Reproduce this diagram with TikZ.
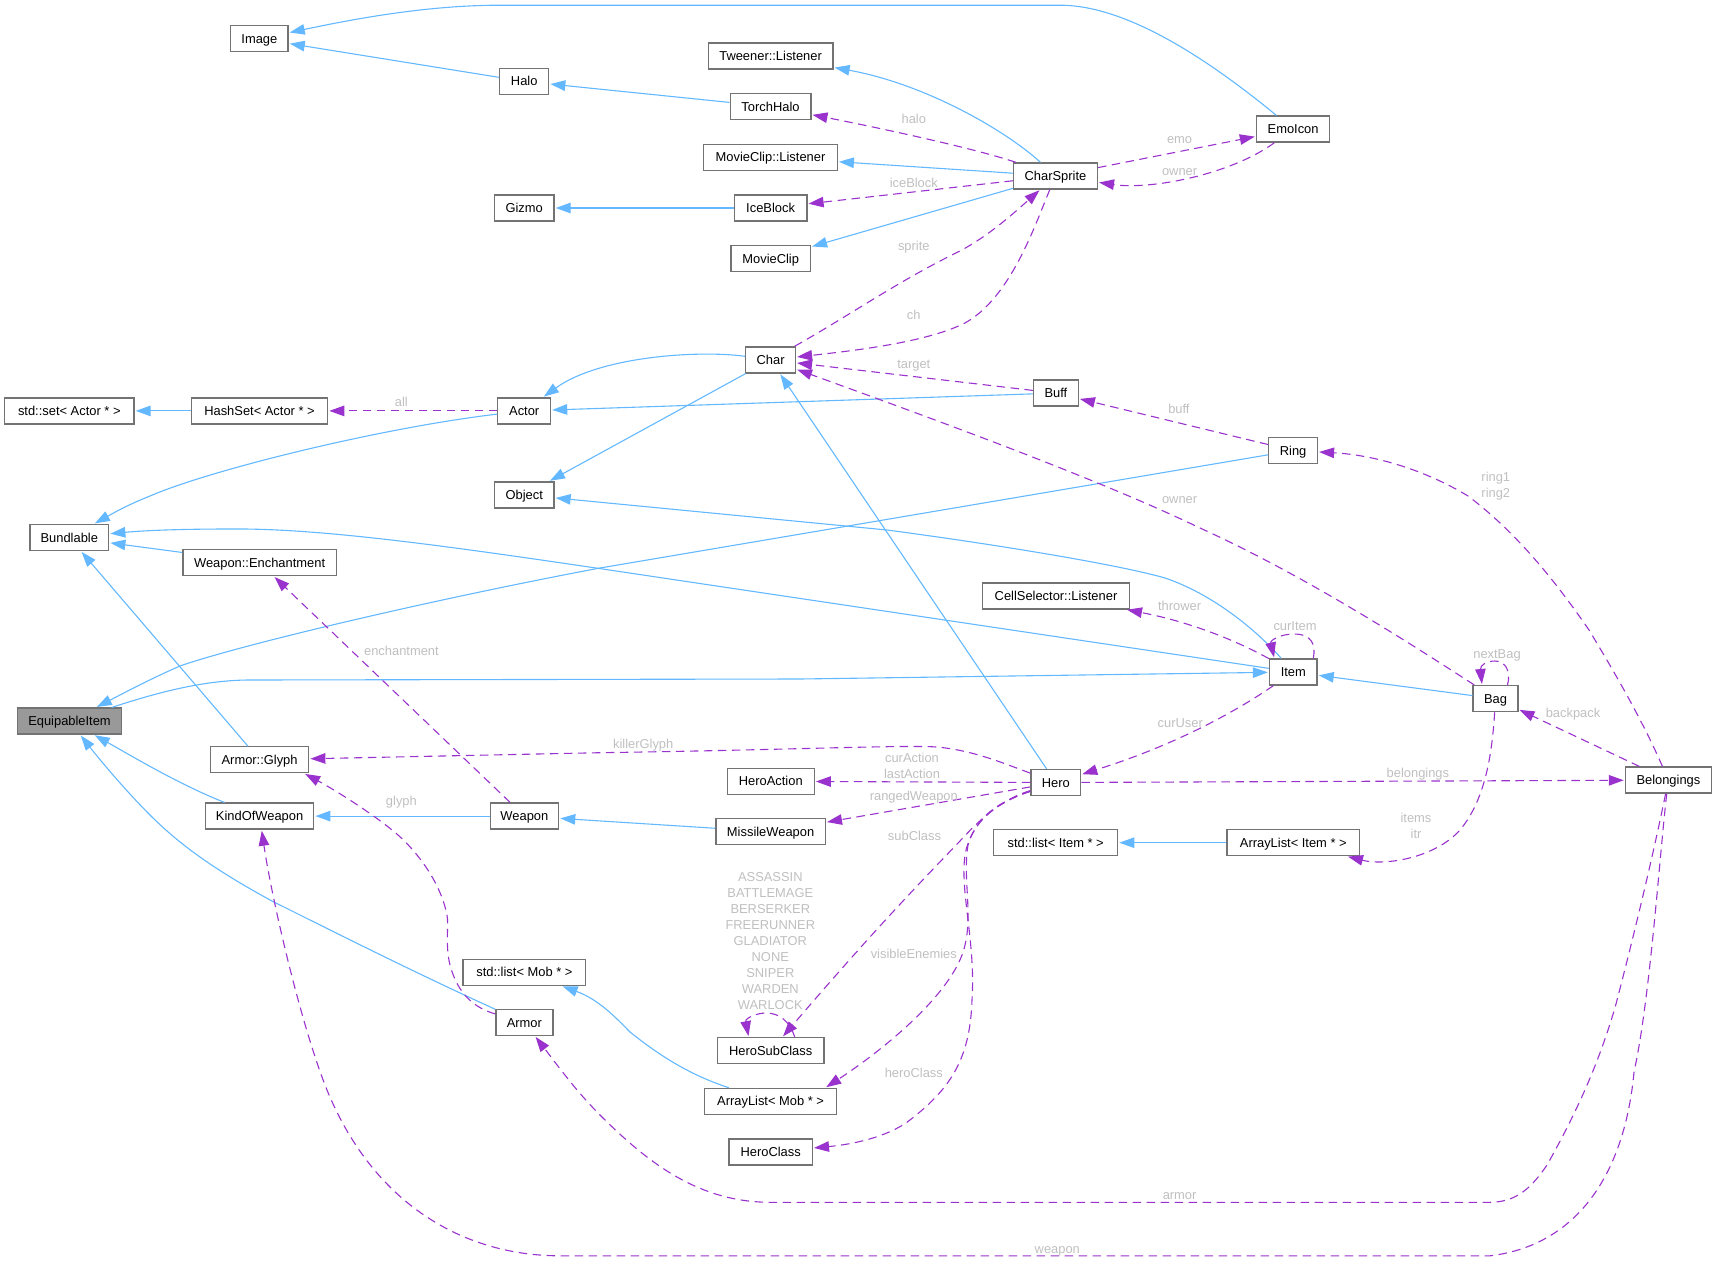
\documentclass[tikz,border=0pt]{standalone}
\usepackage{fontspec}
\setmainfont{Liberation Sans}
\usetikzlibrary{arrows.meta}

\begin{document}
\begin{tikzpicture}[x=1pt,y=-1pt,
    cls/.style={shape=rectangle, draw=black!55, line width=1.3pt, fill=white, inner sep=0pt,
      minimum height=26pt, text height=9pt, text depth=0pt, font=\fontsize{12.9}{16}\selectfont},
    lab/.style={text=black!25, inner sep=0pt, text height=9pt, text depth=0pt, font=\fontsize{12.9}{16}\selectfont},
    labs/.style={text=black!25, inner sep=0pt, align=center, font=\fontsize{12.9}{16}\selectfont},
    inh/.style={draw={rgb,255:red,99;green,184;blue,255}, line width=1.1pt, shorten >=1pt,
      -{Triangle[length=15pt,width=10.5pt]}},
    rel/.style={draw={rgb,255:red,154;green,50;blue,205}, line width=1.1pt, shorten >=1pt,
      dash pattern=on 8.5pt off 5.5pt, -{Triangle[length=15pt,width=10.5pt]}}]
    \useasboundingbox (0,0) rectangle (1716,1261);

    \node[cls,minimum width=57.4pt] (image) at (259.4,38.8) {Image};
    \node[cls,minimum width=49pt] (halo) at (524.2,81.4) {Halo};
    \node[cls,minimum width=59.6pt] (gizmo) at (524.2,208) {Gizmo};
    \node[cls,minimum width=129.4pt] (stdset) at (69.3,410.9) {std::set< Actor * >};
    \node[cls,minimum width=136.3pt] (hashset) at (259.5,410.9) {HashSet< Actor * >};
    \node[cls,minimum width=52.8pt] (actor) at (524.2,410.9) {Actor};
    \node[cls,minimum width=78.9pt] (bundlable) at (69.3,537.5) {Bundlable};
    \node[cls,minimum width=153.5pt] (enchant) at (259.6,562.7) {Weapon::Enchantment};
    \node[cls,minimum width=59.6pt] (object) at (524.2,494.9) {Object};
    \node[cls,minimum width=124.7pt] (tweener) at (770.6,56) {Tweener::Listener};
    \node[cls,minimum width=80.7pt] (torchhalo) at (770.5,106.6) {TorchHalo};
    \node[cls,minimum width=133.5pt] (cliplistener) at (770.5,157.3) {MovieClip::Listener};
    \node[cls,minimum width=72.7pt] (iceblock) at (770.6,208) {IceBlock};
    \node[cls,minimum width=79.6pt] (movieclip) at (770.7,258.5) {MovieClip};
    \node[cls,minimum width=83.8pt] (charsprite) at (1055.5,176) {CharSprite};
    \node[cls,minimum width=49.7pt] (char) at (770.6,359.9) {Char};
    \node[cls,minimum width=44.8pt] (buff) at (1055.9,393.1) {Buff};
    \node[cls,minimum width=146.5pt] (cellsel) at (1056,595.9) {CellSelector::Listener};
    \node[cls,minimum width=73.3pt] (emoicon) at (1293.1,129.1) {EmoIcon};
    \node[cls,minimum width=48.7pt] (ring) at (1293.1,450.6) {Ring};
    \node[cls,minimum width=47.6pt] (item) at (1293.3,672) {Item};
    \node[cls,minimum width=44.8pt] (bag) at (1495.5,698.6) {Bag};
    \node[cls,minimum width=86pt] (belongings) at (1668.4,780.1) {Belongings};
    \node[cls,minimum width=132.8pt] (listitem) at (1293.3,842.7) {ArrayList< Item * >};
    \node[cls,minimum width=86.9pt] (heroaction) at (770.8,781.3) {HeroAction};
    \node[cls,minimum width=49.7pt] (hero) at (1055.8,782.5) {Hero};
    \node[cls,minimum width=109.5pt] (missile) at (770.6,831.8) {MissileWeapon};
    \node[cls,minimum width=123.9pt] (stditem) at (1055.7,842.7) {std::list< Item * >};
    \node[cls,minimum width=106.4pt] (herosub) at (770.7,1050.7) {HeroSubClass};
    \node[cls,minimum width=131.7pt] (listmob) at (770.6,1101.4) {ArrayList< Mob * >};
    \node[cls,minimum width=83.4pt] (heroclass) at (770.7,1152.1) {HeroClass};
    \node[cls,minimum width=104.5pt,fill=black!40] (equip) at (69.5,721.1) {EquipableItem};
    \node[cls,minimum width=98.3pt] (glyph) at (259.6,759.8) {Armor::Glyph};
    \node[cls,minimum width=108.3pt] (kind) at (259.6,816.1) {KindOfWeapon};
    \node[cls,minimum width=68.5pt] (weapon) at (524.4,816.1) {Weapon};
    \node[cls,minimum width=122.8pt] (stdmob) at (524.4,972.3) {std::list< Mob * >};
    \node[cls,minimum width=57pt] (armor) at (524.4,1022.5) {Armor};

    % inheritance
    \draw[inh] (emoicon) .. controls (1215,65) and (1130,5.2) .. (1060,5.2) -- (500,5.2) .. controls (420,5.2) and (340,22) .. (image);
    \draw[inh] (halo) -- (image);
    \draw[inh] (torchhalo) -- (halo);
    \draw[inh] (charsprite) .. controls (1005,130) and (925,84) .. (tweener);
    \draw[inh] (charsprite) -- (cliplistener);
    \draw[inh] (iceblock) -- (gizmo);
    \draw[inh] (charsprite) -- (movieclip);
    \draw[inh] (char) .. controls (700,350) and (600,356) .. (actor);
    \draw[inh] (buff) -- (actor);
    \draw[inh] (char) -- (object);
    \draw[inh] (hashset) -- (stdset);
    \draw[inh] (actor) .. controls (380,428) and (210,470) .. (150,496) .. controls (125,506) and (110,515) .. (bundlable);
    \draw[inh] (ring) -- (600,568) .. controls (430,600) and (240,645) .. (180,666) .. controls (150,679) and (120,695) .. (equip);
    \draw[inh] (item) -- (600,568.6) .. controls (450,546.5) and (320,528) .. (230,529) .. controls (190,529) and (150,530) .. (bundlable);
    \draw[inh] (item) .. controls (1258,632) and (1215,595) .. (1165,578) .. controls (1120,565) and (1000,545) .. (887,530) -- (object);
    \draw[inh] (equip) .. controls (150,695) and (200,680) .. (250,680) -- (800,679) -- (item);
    \draw[inh] (bag) -- (item);
    \draw[inh] (enchant) -- (bundlable);
    \draw[inh] (glyph) -- (bundlable);
    \draw[inh] (kind) .. controls (180,785) and (130,755) .. (equip);
    \draw[inh] (armor) .. controls (420,975) and (340,935) .. (272,901) .. controls (215,870) and (180,845) .. (150,815) .. controls (125,790) and (100,760) .. (equip);
    \draw[inh] (weapon) -- (kind);
    \draw[inh] (missile) -- (weapon);
    \draw[inh] (listmob) .. controls (690,1075) and (660,1056) .. (630,1032) .. controls (618,1020) and (600,1000) .. (stdmob);
    \draw[inh] (listitem) -- (stditem);
    \draw[inh] (hero) -- (char);

    % members
    \draw[rel] (charsprite) .. controls (980,150) and (890,130) .. (torchhalo);
    \draw[rel] (charsprite) -- (iceblock);
    \draw[rel] (char) .. controls (850,315) and (900,280) .. (960,251) .. controls (990,235) and (1015,212) .. (charsprite);
    \draw[rel] (charsprite) .. controls (1035,225) and (1010,300) .. (963,324) .. controls (925,342) and (860,350) .. (char);
    \draw[rel] (buff) -- (char);
    \draw[rel] (bag) .. controls (1420,650) and (1310,578) .. (1200,528) .. controls (1100,480) and (950,425) .. (char);
    \draw[rel] (ring) -- (buff);
    \draw[rel] (belongings) .. controls (1640,715) and (1610,665) .. (1589,630) .. controls (1560,588) and (1520,535) .. (1468,496) .. controls (1425,470) and (1375,455) .. (ring);
    \draw[rel] (charsprite) -- (emoicon);
    \draw[rel] (emoicon) .. controls (1230,175) and (1150,190) .. (charsprite);
    \draw[rel] (actor) -- (hashset);
    \draw[rel] (item) .. controls (1235,640) and (1190,622) .. (cellsel);
    \draw[rel] ([xshift=20pt]item.north) .. controls (1316,645) and (1312,634) .. (1294,634) .. controls (1281,634) and (1270,640) .. ([xshift=-19pt]item.north);
    \draw[rel] (item) .. controls (1235,712) and (1175,745) .. (hero);
    \draw[rel] ([xshift=12pt]bag.north) .. controls (1511,672) and (1506,661) .. (1495,661) .. controls (1487,661) and (1480,665) .. ([xshift=-13.5pt]bag.north);
    \draw[rel] (belongings) -- (bag);
    \draw[rel] (hero) -- (belongings);
    \draw[rel] (bag) .. controls (1492,755) and (1485,800) .. (1460,830) .. controls (1435,858) and (1385,866) .. (listitem);
    \draw[rel] (hero) .. controls (1000,762) and (965,747) .. (925,746.5) .. controls (870,746) and (780,750) .. (600,752.7) -- (glyph);
    \draw[rel] (hero) -- (heroaction);
    \draw[rel] (hero) -- (missile);
    \draw[rel] (hero) .. controls (1010,797) and (990,808) .. (960,841) .. controls (910,893) and (870,935) .. (herosub);
    \draw[rel] ([xshift=24pt]herosub.north) .. controls (790,1022) and (780,1013) .. (766,1013) .. controls (757,1013) and (745,1018) .. ([xshift=-22pt]herosub.north);
    \draw[rel] (hero) .. controls (1005,800) and (978,812) .. (968,845) .. controls (962,880) and (975,920) .. (962,955) .. controls (945,1000) and (880,1052) .. (listmob.14);
    \draw[rel] (hero) .. controls (1005,800) and (975,815) .. (966,850) .. controls (958,885) and (976,940) .. (972,1000) .. controls (970,1060) and (950,1090) .. (906,1123) .. controls (880,1140) and (845,1145) .. (heroclass);
    \draw[rel] (weapon) -- (enchant);
    \draw[rel] (armor) .. controls (475,1008) and (458,995) .. (450,965) .. controls (445,945) and (449,925) .. (447,915) .. controls (440,880) and (415,850) .. (398,835) .. controls (375,815) and (335,790) .. (glyph.-17);
    \draw[rel] (belongings) .. controls (1660,850) and (1650,1000) .. (1634,1072) .. controls (1625,1170) and (1580,1245) .. (1490,1255.8) -- (560,1255.8) .. controls (465,1255.8) and (372,1205) .. (325,1085) .. controls (300,1020) and (272,900) .. (kind);
    \draw[rel] (belongings) .. controls (1650,870) and (1630,950) .. (1616,1004) .. controls (1600,1060) and (1578,1110) .. (1547,1165) .. controls (1530,1190) and (1515,1202) .. (1490,1202.3) -- (770,1202.3) .. controls (700,1202) and (650,1165) .. (600,1115) .. controls (575,1090) and (555,1062) .. (armor);

    % member names
    \node[lab] (lhalo) at (913.8,118.5) {halo};
    \node[lab] (lemo) at (1179.6,139) {emo};
    \node[lab] (lowner) at (1179.6,170.8) {owner};
    \node[lab] (liceblock) at (913.8,182.8) {iceBlock};
    \node[lab] (lsprite) at (913.8,245.5) {sprite};
    \node[lab] (lch) at (913.8,314.6) {ch};
    \node[lab] (ltarget) at (913.8,363.6) {target};
    \node[lab] (lbuff) at (1178.9,408.6) {buff};
    \node[lab] (lall) at (401.4,402.2) {all};
    \node[labs] (lring) at (1495.8,485.8) {ring1\\ring2};
    \node[lab] (lbagowner) at (1179.6,499) {owner};
    \node[lab] (lthrower) at (1179.6,606) {thrower};
    \node[lab] (lcuritem) at (1295,626) {curItem};
    \node[lab] (lnextbag) at (1497,654) {nextBag};
    \node[lab] (lcuruser) at (1180.3,723.4) {curUser};
    \node[lab] (lbackpack) at (1573,712.5) {backpack};
    \node[lab] (lbelongings) at (1417.9,772.9) {belongings};
    \node[labs] (litems) at (1416,825.7) {items\\itr};
    \node[lab] (lenchant) at (401.4,650.5) {enchantment};
    \node[lab] (lglyph) at (401.4,800.6) {glyph};
    \node[lab] (lkiller) at (643.2,743.5) {killerGlyph};
    \node[labs] (lcuraction) at (912,765.5) {curAction\\lastAction};
    \node[lab] (lranged) at (913.8,795.8) {rangedWeapon};
    \node[lab] (lsubclass) at (914.5,836.4) {subClass};
    \node[labs] (lenum) at (770.3,941) {ASSASSIN\\BATTLEMAGE\\BERSERKER\\FREERUNNER\\GLADIATOR\\NONE\\SNIPER\\WARDEN\\WARLOCK};
    \node[lab] (lvisible) at (913.8,954.3) {visibleEnemies};
    \node[lab] (lheroclass) at (913.8,1073.4) {heroClass};
    \node[lab] (larmor) at (1179.6,1195) {armor};
    \node[lab] (lweapon) at (1057.3,1248.5) {weapon};
\end{tikzpicture}
\end{document}
